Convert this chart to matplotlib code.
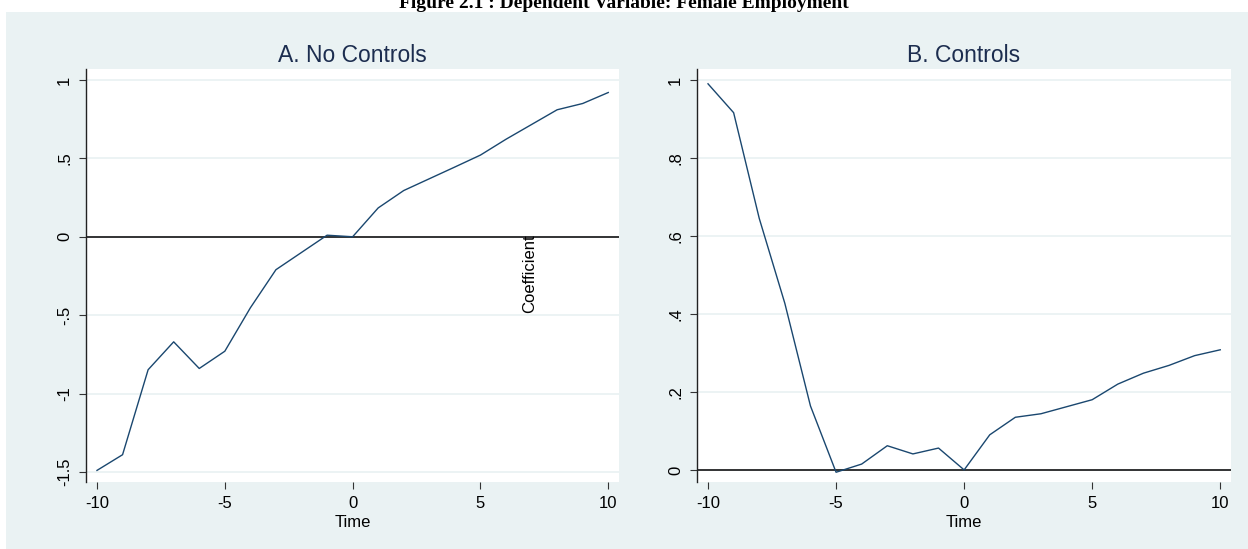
import matplotlib.pyplot as plt
import matplotlib.patches as mpatches
import numpy as np

# event time and estimated coefficients
time = list(range(-10, 11))
coef_no_controls = [-1.49, -1.39, -0.848, -0.67, -0.84, -0.73, -0.453, -0.21, -0.10, 0.01, 0.0,
                    0.184, 0.295, 0.37, 0.445, 0.521, 0.622, 0.716, 0.81, 0.85, 0.92]
coef_controls = [0.99, 0.916, 0.645, 0.427, 0.164, -0.006, 0.015, 0.062, 0.041, 0.056, 0.0,
                 0.09, 0.135, 0.144, 0.162, 0.180, 0.22, 0.248, 0.268, 0.293, 0.308]

xticks = [-10, -5, 0, 5, 10]
yticks_a = [-1.5, -1, -0.5, 0, 0.5, 1]
ylabels_a = ['-1.5', '-1', '-.5', '0', '.5', '1']
yticks_b = [0, 0.2, 0.4, 0.6, 0.8, 1]
ylabels_b = ['0', '.2', '.4', '.6', '.8', '1']

BG = '#eaf2f3'
NAVY = '#1a476f'
TITLE = '#1c2d4f'
W, H = 1248, 549

plt.rcParams['font.family'] = ['Liberation Sans', 'DejaVu Sans']

fig = plt.figure(figsize=(W / 100, H / 100), dpi=100)
fig.patch.set_facecolor('white')
fig.patches.append(mpatches.Rectangle((6 / W, 0), 1, 1 - 12 / H, transform=fig.transFigure,
                                      facecolor=BG, edgecolor='none', zorder=-10))

fig.text(624 / W, 1 - 8 / H, 'Figure 2.1 : Dependent Variable: Female Employment',
         ha='center', va='baseline', fontsize=14, fontweight='bold',
         family=['Liberation Serif', 'DejaVu Serif'])


def panel(rect, y, yticks, ylabels, ylim, title):
    ax = fig.add_axes(rect)
    ax.set_facecolor('white')
    for t in yticks:
        ax.axhline(t, color=BG, lw=1.3, zorder=1)
    ax.axhline(0, color='black', lw=1.1, zorder=2)
    ax.plot(time, y, color=NAVY, lw=1.0, zorder=3)
    ax.set_xlim(-10.43, 10.42)
    ax.set_ylim(*ylim)
    ax.set_xticks(xticks)
    ax.set_xticklabels([str(v) for v in xticks])
    ax.set_yticks(yticks)
    ax.set_yticklabels(ylabels)
    for s in ['top', 'right', 'bottom']:
        ax.spines[s].set_visible(False)
    ax.spines['left'].set_color('#222222')
    ax.spines['left'].set_linewidth(1.0)
    ax.tick_params(axis='both', length=5, width=0.8, color='#333333', labelsize=12, pad=5)
    ax.tick_params(axis='y', labelrotation=90)
    for lab in ax.get_yticklabels():
        lab.set_va('center')
    ax.set_xlabel('Time', fontsize=12, labelpad=3)
    ax.set_title(title, fontsize=16.5, color=TITLE, pad=5)
    return ax


ax_a = panel([86 / W, 1 - 482 / H, (619 - 86) / W, (482 - 69) / H],
             coef_no_controls, yticks_a, ylabels_a, (-1.564, 1.070), 'A. No Controls')
ax_b = panel([697 / W, 1 - 482 / H, (1231 - 697) / W, (482 - 69) / H],
             coef_controls, yticks_b, ylabels_b, (-0.031, 1.028), 'B. Controls')

# y-axis title ends up inside the first panel
fig.text(530 / W, 1 - 274 / H, 'Coefficient', rotation=90, ha='center', va='center', fontsize=12)

plt.savefig('out.png', dpi=100)
